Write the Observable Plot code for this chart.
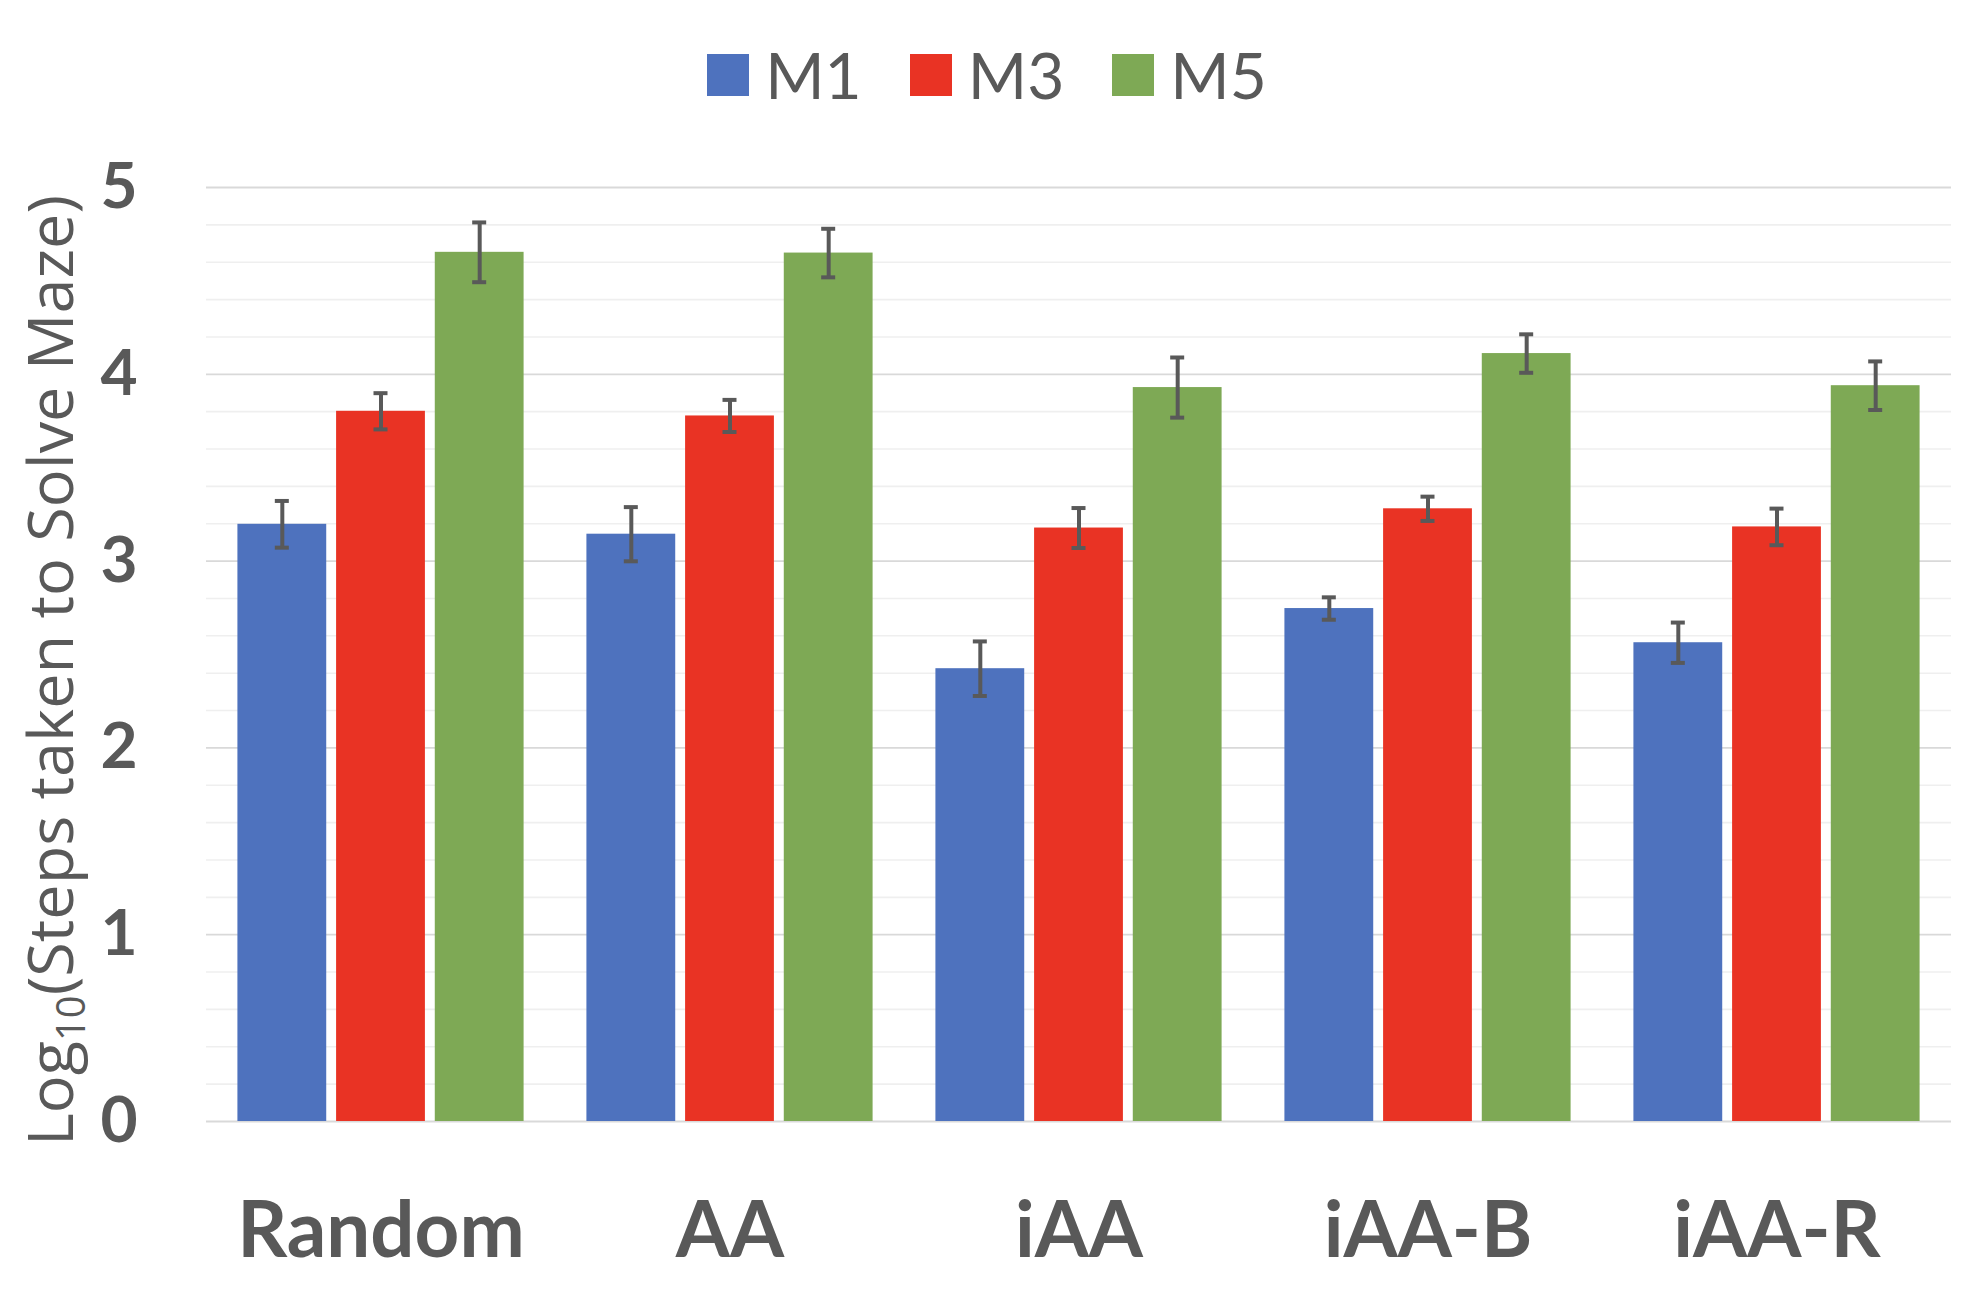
<!DOCTYPE html>
<html>
<head>
<meta charset="utf-8">
<script src="https://cdn.jsdelivr.net/npm/d3@7"></script>
<script src="https://cdn.jsdelivr.net/npm/@observablehq/plot@0.6"></script>
<style>
  html, body { margin: 0; padding: 0; background: #ffffff; }
  #page { width: 1974px; height: 1300px; position: relative; overflow: hidden; }
  #legend { height: 110px; box-sizing: border-box; padding-top: 40px;
            display: flex; justify-content: center; align-items: center;
            font-family: Lato, "Open Sans", sans-serif; font-size: 64px; color: #595959; }
  #legend .item { display: flex; align-items: center; margin: 0 24px; height: 70px; }
  #legend .sw { width: 42px; height: 42px; margin-right: 16px; }
  #legend .lab { line-height: 1; }
  #plot svg { display: block; }
</style>
</head>
<body>
<div id="page">
  <div id="legend"></div>
  <div id="plot"></div>
</div>
<script>
// ---- data ----
const groups = ["Random", "AA", "iAA", "iAA-B", "iAA-R"];
const series = ["M1", "M3", "M5"];
const colors = ["#4E72BE", "#E93324", "#7EA955"];

const m1 = [3.197, 3.144, 2.424, 2.746, 2.563];
const m3 = [3.802, 3.777, 3.177, 3.280, 3.183];
const m5 = [4.653, 4.649, 3.929, 4.111, 3.939];

const m1Err = [0.125, 0.145, 0.146, 0.060, 0.108];
const m3Err = [0.097, 0.086, 0.107, 0.065, 0.098];
const m5Err = [0.160, 0.130, 0.161, 0.103, 0.130];

const yTicks = [0, 1, 2, 3, 4, 5];
const yTitle = "Log10(Steps taken to Solve Maze)";

// ---- table built from the arrays ----
const values = {M1: m1, M3: m3, M5: m5};
const errors = {M1: m1Err, M3: m3Err, M5: m5Err};
const rows = groups.flatMap((g, i) => series.map(s => ({
  group: g, series: s, value: values[s][i], err: errors[s][i]
})));
const minorTicks = d3.ticks(0, 5, 25).filter(t => !yTicks.includes(t));

// ---- legend ----
const legend = d3.select("#legend");
series.forEach((s, i) => {
  const it = legend.append("div").attr("class", "item");
  it.append("div").attr("class", "sw").style("background", colors[i]);
  it.append("div").attr("class", "lab").text(s);
});

// ---- layout (styling) ----
const W = 1974, ML = 206, MR = 23;
const PIN = 0.18, POUT = 0.09;
const step = (W - ML - MR) / (groups.length - PIN + 2 * POUT);
const BW = step * (1 - PIN);          // group band width
const SUBSTEP = BW / (series.length - 0.1);
const BAR = SUBSTEP * 0.9;            // single bar width
const CAP = 14;                       // error cap width
const ink = "#595959";

const seriesMarks = series.flatMap((s, k) => {
  const off = (k - (series.length - 1) / 2) * SUBSTEP;
  const data = rows.filter(d => d.series === s);
  const bi = (BW - BAR) / 2, ci = (BW - CAP) / 2;
  return [
    Plot.barY(data, {x: "group", y: "value", fill: "series",
                     insetLeft: bi + off, insetRight: bi - off}),
    Plot.ruleX(data, {x: "group", y1: d => d.value - d.err, y2: d => d.value + d.err,
                      dx: off, stroke: ink, strokeWidth: 4}),
    Plot.tickY(data, {x: "group", y: d => d.value - d.err, stroke: ink, strokeWidth: 4,
                      insetLeft: ci + off, insetRight: ci - off}),
    Plot.tickY(data, {x: "group", y: d => d.value + d.err, stroke: ink, strokeWidth: 4,
                      insetLeft: ci + off, insetRight: ci - off})
  ];
});

const chart = Plot.plot({
  width: W,
  height: 1190,
  marginTop: 77,
  marginBottom: 179,
  marginLeft: ML,
  marginRight: MR,
  style: {background: "#ffffff", color: ink},
  x: {domain: groups, paddingInner: PIN, paddingOuter: POUT, round: false, label: null},
  y: {domain: [0, 5], label: null},
  color: {domain: series, range: colors},
  marks: [
    Plot.ruleY(minorTicks, {stroke: "#efefef", strokeWidth: 1.6}),
    Plot.ruleY(yTicks, {stroke: "#d9d9d9", strokeWidth: 1.8}),
    ...seriesMarks,
    Plot.axisY(yTicks, {tickSize: 0, tickPadding: 69, label: null, tickFormat: d => String(d),
                        fontSize: 64, fontWeight: 700, fontFamily: "Lato", fill: ink}),
    Plot.axisX({anchor: "bottom", tickSize: 0, tickPadding: 80, label: null,
                fontSize: 78, fontWeight: 700, fontFamily: "Lato", fill: ink}),
    Plot.text([yTitle], {text: d => d, frameAnchor: "left", rotate: -90, textAnchor: "middle",
                         dx: -178, dy: 16, lineAnchor: "top", fontSize: 63,
                         fontFamily: "Open Sans", fill: ink})
  ]
});
document.getElementById("plot").appendChild(chart);

// subscript "10" in the axis title
d3.select(chart).selectAll("text").filter(function () { return this.textContent === yTitle; })
  .each(function () {
    const t = d3.select(this);
    t.text(null);
    t.append("tspan").text("Log");
    t.append("tspan").attr("font-size", 40).attr("dy", 12).text("10");
    t.append("tspan").attr("dy", -12).text("(Steps taken to Solve Maze)");
  });
</script>
</body>
</html>
